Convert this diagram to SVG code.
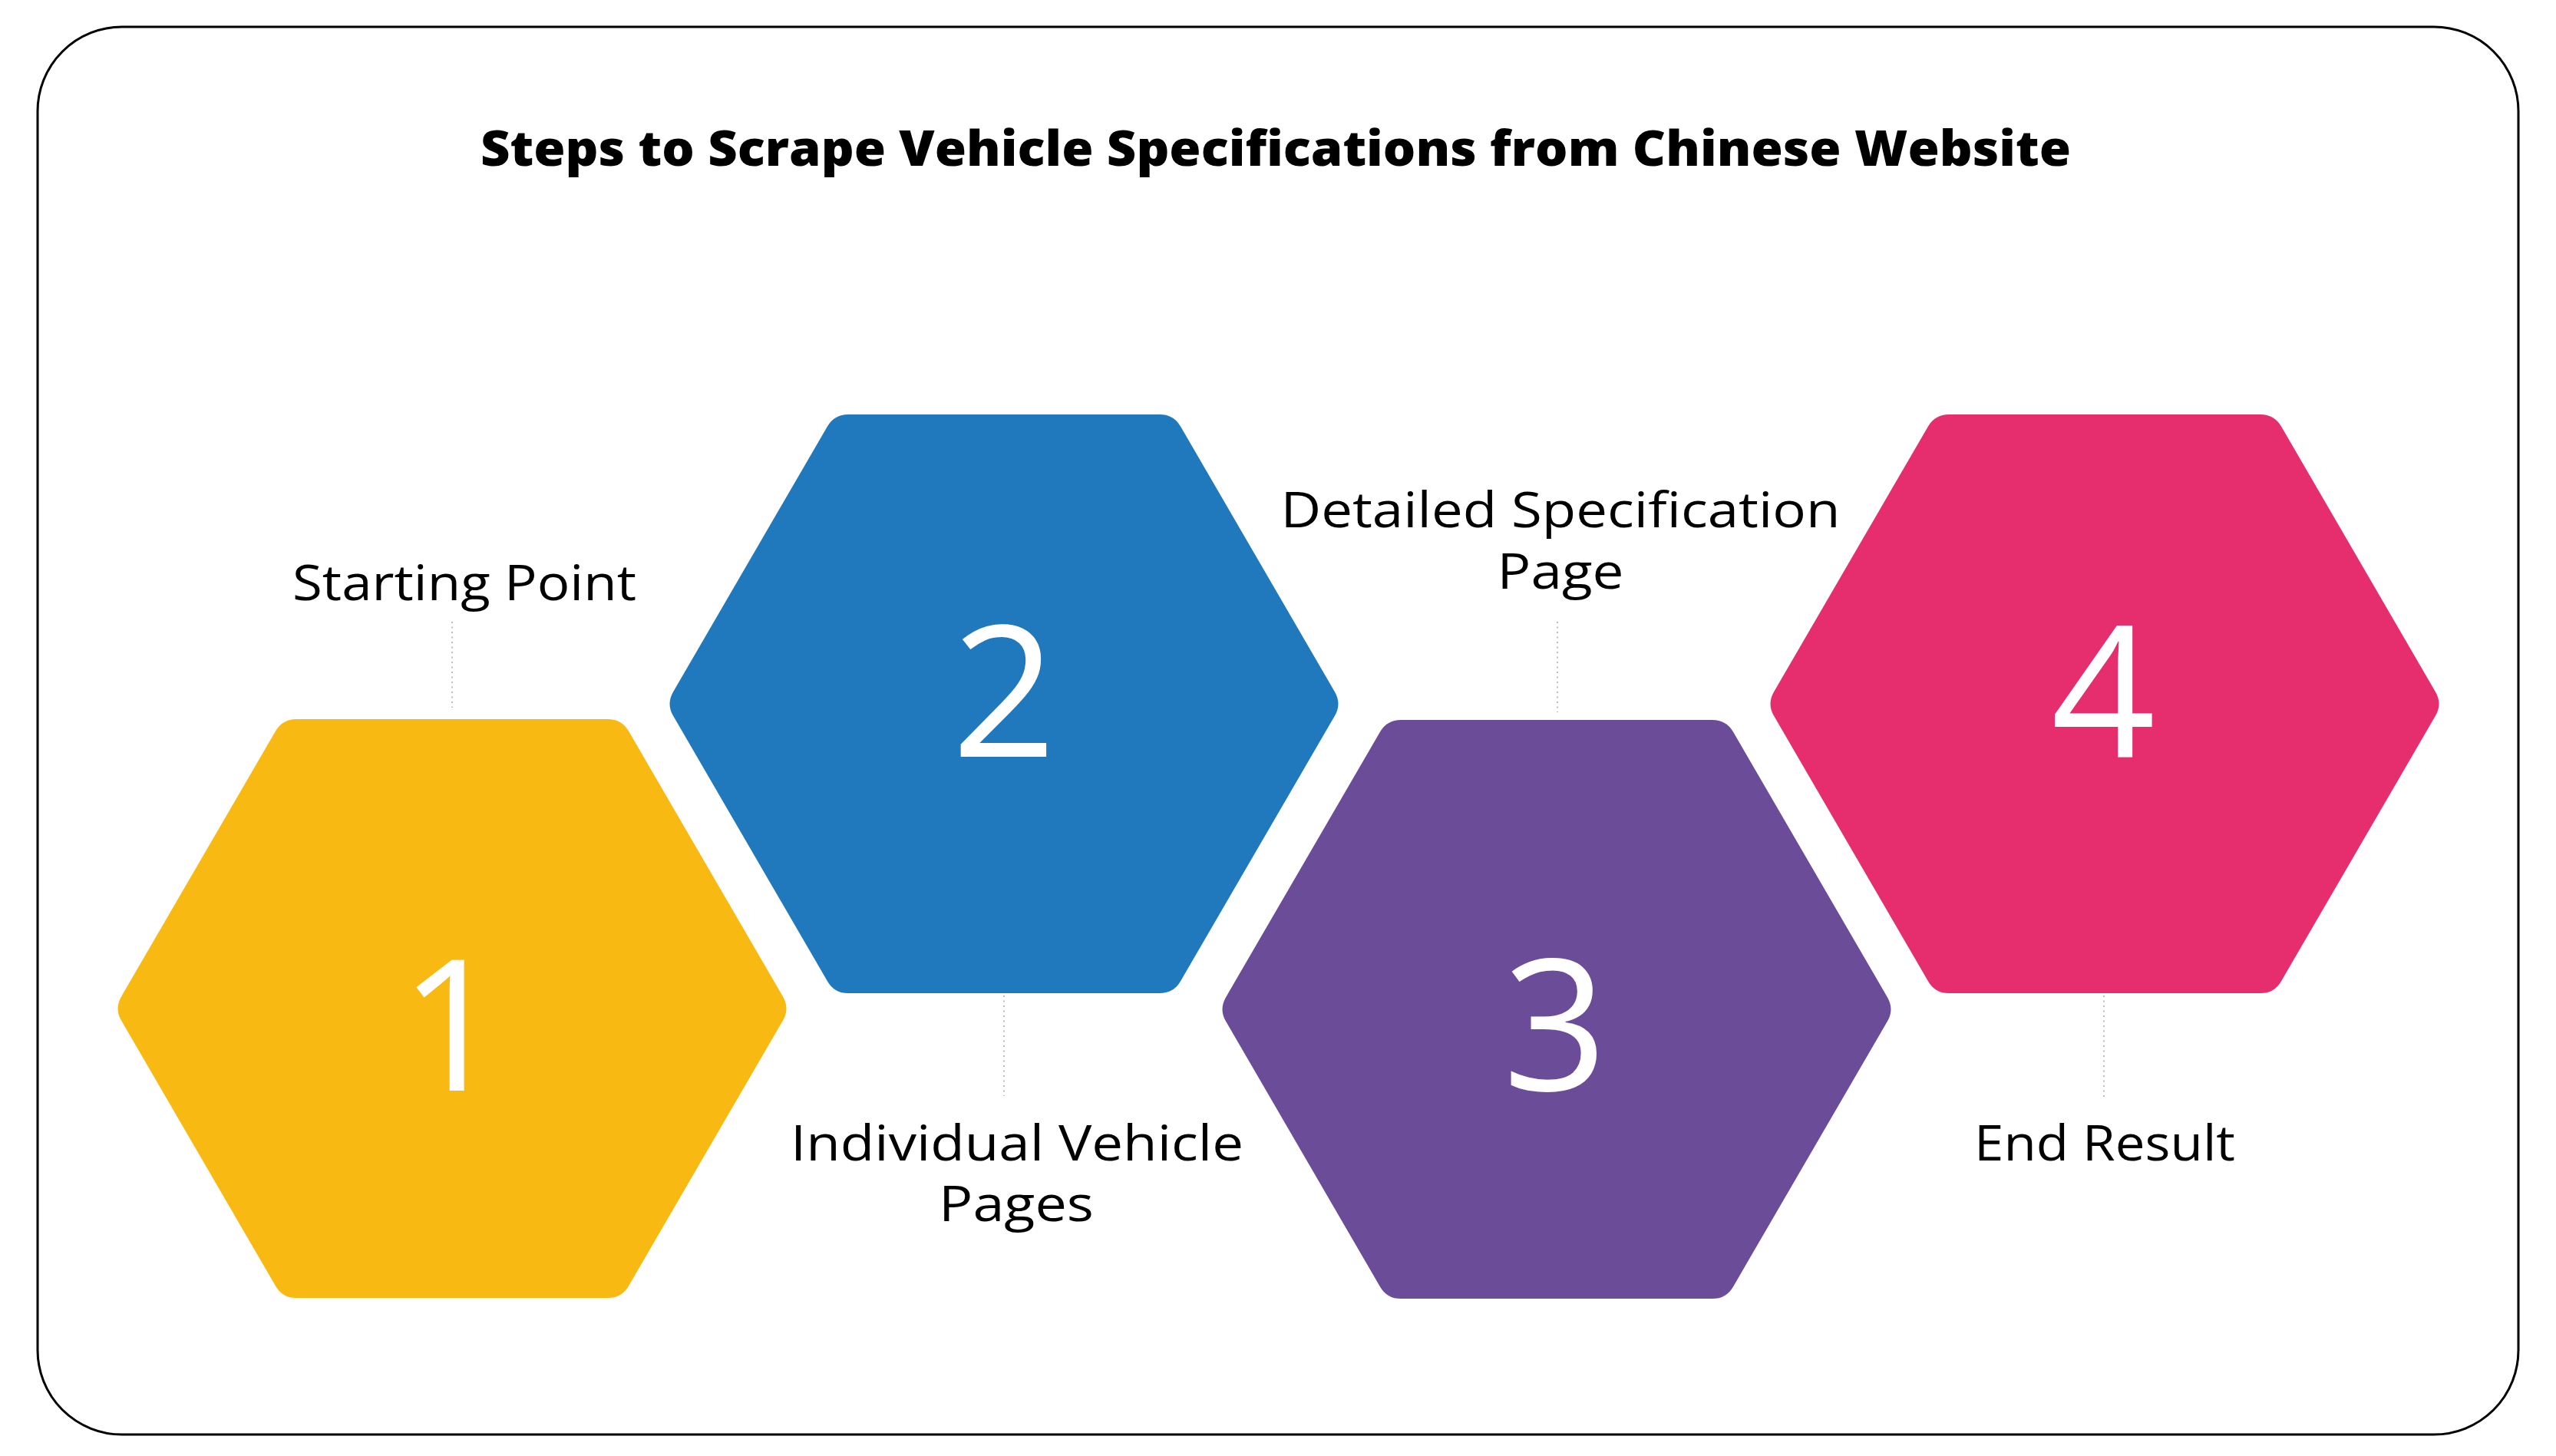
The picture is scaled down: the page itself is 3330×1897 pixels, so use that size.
<svg xmlns="http://www.w3.org/2000/svg" width="3330" height="1897" viewBox="0 0 3330 1897">
  <style>
    .frame { fill: #ffffff; stroke: #000000; stroke-width: 3; }
    .title { font-family: "Open Sans", "Liberation Sans", sans-serif; font-weight: 800; font-size: 64px; fill: #000000; text-anchor: middle; }
    .label { font-family: "Open Sans", "Liberation Sans", sans-serif; font-weight: 500; font-size: 64px; fill: #000000; text-anchor: middle; }
    .num { font-family: "Open Sans", "Liberation Sans", sans-serif; font-weight: 400; font-size: 238px; fill: #ffffff; text-anchor: middle; }
    .conn { stroke: #bdbdbd; stroke-width: 2; stroke-dasharray: 2 4.5; fill: none; }
  </style>
  <defs>
    <path id="hex" d="M -203 -377 L 203 -377 Q 221 -377 230 -361.4 L 431 -15.6 Q 440 0 431 15.6 L 230 361.4 Q 221 377 203 377 L -203 377 Q -221 377 -230 361.4 L -431 15.6 Q -440 0 -431 -15.6 L -230 -361.4 Q -221 -377 -203 -377 Z"/>
  </defs>
  <rect x="0" y="0" width="3330" height="1897" fill="#ffffff"/>
  <rect class="frame" x="49" y="35" width="3232" height="1834" rx="110" ry="110"/>
  <text class="title" x="1662" y="216" textLength="2072" lengthAdjust="spacingAndGlyphs">Steps to Scrape Vehicle Specifications from Chinese Website</text>

  <g id="connectors">
    <line class="conn" x1="589" y1="810" x2="589" y2="922"/>
    <line class="conn" x1="1308" y1="1297" x2="1308" y2="1428"/>
    <line class="conn" x1="2029" y1="810" x2="2029" y2="928"/>
    <line class="conn" x1="2741" y1="1297" x2="2741" y2="1429"/>
  </g>

  <g id="step1">
    <use href="#hex" transform="translate(589 1314)" fill="#F9B913"/>
    <text class="num" x="589" y="1421">1</text>
    <text class="label" x="605" y="782" textLength="448" lengthAdjust="spacingAndGlyphs">Starting Point</text>
  </g>
  <g id="step2">
    <use href="#hex" transform="translate(1308 917)" fill="#2079BD"/>
    <text class="num" x="1308" y="986">2</text>
    <text class="label" x="1325" y="1512" textLength="590" lengthAdjust="spacingAndGlyphs">Individual Vehicle</text>
    <text class="label" x="1324" y="1591" textLength="202" lengthAdjust="spacingAndGlyphs">Pages</text>
  </g>
  <g id="step3">
    <use href="#hex" transform="translate(2028 1315)" fill="#6A4C98"/>
    <text class="num" x="2026" y="1421">3</text>
    <text class="label" x="2033" y="687" textLength="729" lengthAdjust="spacingAndGlyphs">Detailed Specification</text>
    <text class="label" x="2033" y="767" textLength="165" lengthAdjust="spacingAndGlyphs">Page</text>
  </g>
  <g id="step4">
    <use href="#hex" transform="translate(2742 917)" fill="#E62E6F"/>
    <text class="num" x="2740" y="986">4</text>
    <text class="label" x="2742" y="1512" textLength="340" lengthAdjust="spacingAndGlyphs">End Result</text>
  </g>
</svg>
